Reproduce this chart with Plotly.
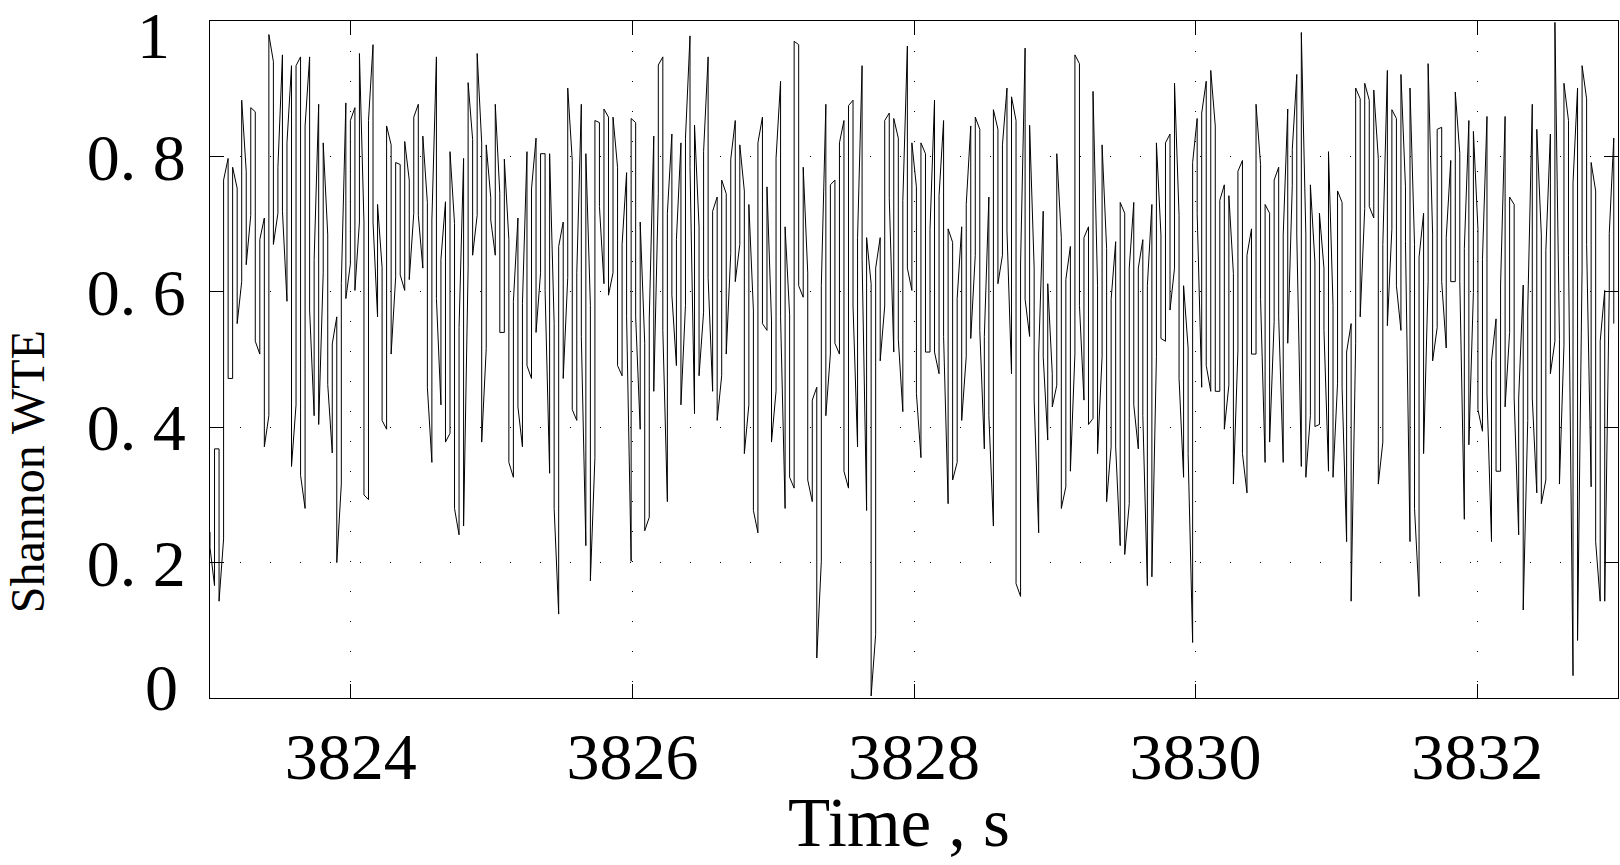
import numpy as np
import plotly.graph_objects as go

# Shannon WTE: each stroke of the trace has a top and a bottom value
stroke_hi = [
    0.245,
    0.368, 0.368, 0.765, 0.797, 0.784, 0.753, 0.883, 0.778, 0.872, 0.866,
    0.677, 0.709, 0.980, 0.940, 0.784, 0.950, 0.820, 0.934, 0.934, 0.947,
    0.845, 0.947, 0.648, 0.877, 0.820, 0.684, 0.523, 0.563, 0.612, 0.879,
    0.853, 0.872, 0.952, 0.703, 0.853, 0.965, 0.729, 0.636, 0.845, 0.817,
    0.791, 0.788, 0.822, 0.765, 0.858, 0.877, 0.830, 0.732, 0.706, 0.947,
    0.648, 0.733, 0.807, 0.701, 0.547, 0.797, 0.909, 0.825, 0.952, 0.820,
    0.817, 0.739,
    0.877, 0.745, 0.796, 0.677, 0.586, 0.709, 0.583, 0.807, 0.752, 0.827,
    0.804, 0.804, 0.804, 0.553, 0.667, 0.703, 0.901, 0.794, 0.628, 0.877,
    0.804, 0.580, 0.853, 0.850, 0.870, 0.858, 0.858, 0.784, 0.670, 0.776,
    0.856,
    0.850, 0.703, 0.524, 0.560, 0.830, 0.935, 0.947, 0.716, 0.833, 0.677,
    0.820, 0.827, 0.978, 0.846, 0.696, 0.807, 0.947, 0.719, 0.740, 0.765,
    0.745, 0.796, 0.853, 0.817, 0.749, 0.729, 0.573, 0.820, 0.858, 0.755,
    0.557, 0.797,
    0.911, 0.696, 0.566, 0.970, 0.965, 0.784, 0.628, 0.440, 0.459, 0.609,
    0.877, 0.758, 0.765, 0.820, 0.853, 0.875, 0.883, 0.680, 0.934, 0.680,
    0.612, 0.635, 0.680, 0.853, 0.864, 0.856, 0.827, 0.735, 0.963, 0.820,
    0.755, 0.820, 0.804, 0.692, 0.883, 0.742, 0.853, 0.693, 0.673, 0.590,
    0.696, 0.729, 0.845, 0.858, 0.840, 0.534, 0.740, 0.869, 0.840, 0.817,
    0.901, 0.888, 0.853, 0.641, 0.960, 0.846, 0.635, 0.508, 0.719, 0.612,
    0.479, 0.804,
    0.680, 0.618, 0.667, 0.950, 0.937, 0.680, 0.696, 0.896, 0.609, 0.817,
    0.664, 0.589, 0.674, 0.732, 0.716, 0.635, 0.732, 0.635, 0.677, 0.609,
    0.729, 0.820, 0.684, 0.820, 0.833, 0.908, 0.713, 0.609, 0.517, 0.791,
    0.856,
    0.864, 0.911, 0.927, 0.845, 0.735, 0.758, 0.742, 0.627, 0.778, 0.794,
    0.654, 0.693, 0.877, 0.788, 0.729, 0.716, 0.765, 0.784, 0.684, 0.870,
    0.810, 0.921, 0.983, 0.684, 0.758, 0.644, 0.716, 0.635, 0.807, 0.580,
    0.749,
    0.732, 0.511, 0.553, 0.901, 0.885, 0.908, 0.883, 0.898, 0.797, 0.670,
    0.927, 0.869, 0.856, 0.921, 0.755, 0.901, 0.670, 0.651, 0.716, 0.937,
    0.684, 0.840, 0.843, 0.680, 0.794, 0.895, 0.804, 0.664, 0.853, 0.837,
    0.693, 0.648,
    0.859, 0.498, 0.560, 0.610, 0.859, 0.740, 0.729, 0.443, 0.610, 0.573,
    0.877, 0.840, 0.684, 0.661, 0.833, 0.998, 0.530, 0.908, 0.853, 0.761,
    0.901, 0.934, 0.885, 0.791, 0.749, 0.527, 0.602, 0.686, 0.827,
]
stroke_lo = [
    0.222,
    0.166, 0.143, 0.235, 0.472, 0.472, 0.553, 0.615, 0.640, 0.713, 0.527,
    0.508, 0.371, 0.417, 0.670, 0.716, 0.719, 0.586, 0.342, 0.433, 0.329,
    0.280, 0.573, 0.417, 0.404, 0.628, 0.463, 0.362, 0.200, 0.316, 0.590,
    0.641, 0.602, 0.703, 0.300, 0.293, 0.703, 0.563, 0.410, 0.397, 0.508,
    0.622, 0.625, 0.602, 0.618, 0.716, 0.713, 0.635, 0.459, 0.348, 0.590,
    0.433, 0.378, 0.391, 0.280, 0.241, 0.254, 0.635, 0.654, 0.713, 0.378,
    0.516, 0.706,
    0.654, 0.540, 0.540, 0.348, 0.326, 0.430, 0.371, 0.491, 0.472, 0.540,
    0.628, 0.602, 0.332, 0.280, 0.124, 0.472, 0.621, 0.426, 0.410, 0.534,
    0.225, 0.173, 0.355, 0.726, 0.612, 0.595, 0.628, 0.491, 0.476, 0.563,
    0.202,
    0.563, 0.397, 0.247, 0.267, 0.453, 0.745, 0.543, 0.290, 0.595, 0.491,
    0.433, 0.580, 0.784, 0.420, 0.476, 0.570, 0.621, 0.453, 0.410, 0.476,
    0.508, 0.657, 0.615, 0.670, 0.361, 0.433, 0.277, 0.244, 0.553, 0.543,
    0.378, 0.453,
    0.563, 0.280, 0.326, 0.310, 0.609, 0.592, 0.322, 0.290, 0.059, 0.202,
    0.417, 0.508, 0.524, 0.508, 0.335, 0.310, 0.579, 0.371, 0.648, 0.277,
    0.003, 0.094, 0.498, 0.579, 0.739, 0.511, 0.530, 0.423, 0.635, 0.602,
    0.450, 0.355, 0.511, 0.511, 0.511, 0.479, 0.534, 0.287, 0.322, 0.348,
    0.410, 0.504, 0.531, 0.654, 0.543, 0.368, 0.417, 0.254, 0.612, 0.654,
    0.690, 0.479, 0.169, 0.150, 0.589, 0.534, 0.440, 0.244, 0.504, 0.381,
    0.430, 0.462,
    0.280, 0.312, 0.335, 0.508, 0.580, 0.440, 0.404, 0.413, 0.361, 0.504,
    0.290, 0.371, 0.371, 0.225, 0.212, 0.287, 0.433, 0.368, 0.417, 0.166,
    0.179, 0.504, 0.531, 0.527, 0.573, 0.635, 0.472, 0.326, 0.361, 0.082,
    0.716,
    0.459, 0.491, 0.453, 0.453, 0.453, 0.397, 0.462, 0.316, 0.514, 0.361,
    0.303, 0.508, 0.508, 0.589, 0.348, 0.378, 0.556, 0.563, 0.348, 0.524,
    0.757, 0.684, 0.342, 0.326, 0.417, 0.401, 0.404, 0.543, 0.335, 0.326,
    0.465,
    0.459, 0.231, 0.143, 0.524, 0.563, 0.723, 0.726, 0.709, 0.316, 0.378,
    0.550, 0.693, 0.609, 0.543, 0.674, 0.231, 0.280, 0.150, 0.361, 0.615,
    0.498, 0.547, 0.615, 0.517, 0.615, 0.615, 0.615, 0.264, 0.374, 0.599,
    0.426, 0.394,
    0.449, 0.231, 0.335, 0.335, 0.430, 0.540, 0.443, 0.241, 0.130, 0.410,
    0.443, 0.303, 0.287, 0.322, 0.479, 0.527, 0.316, 0.521, 0.654, 0.033,
    0.085, 0.635, 0.670, 0.312, 0.231, 0.143, 0.143, 0.602, 0.553,
]

x_ticks = [3824, 3826, 3828, 3830, 3832]
y_ticks = [0, 0.2, 0.4, 0.6, 0.8, 1]
# end labels (0 and 1) are placed as annotations, nudged inside the figure like the original
y_ticktext = ['', '0. 2', '0. 4', '0. 6', '0. 8', '']

# stroke times and zigzag path (top/bottom alternate so the joins stay short)
n = len(stroke_hi)
t_stroke = np.linspace(3823.0, 3832.97, n)
t_path, v_path = [], []
for i in range(n):
    pair = (stroke_hi[i], stroke_lo[i]) if i % 2 == 0 else (stroke_lo[i], stroke_hi[i])
    t_path += [t_stroke[i], t_stroke[i]]
    v_path += list(pair)

serif = 'Liberation Serif, Times New Roman, serif'
big_font = dict(family=serif, size=66, color='black')

fig = go.Figure(go.Scatter(
    x=t_path, y=v_path, mode='lines',
    line=dict(color='black', width=1),
    hoverinfo='skip',
))

axis_style = dict(
    ticks='inside', ticklen=14, tickwidth=1, tickcolor='black',
    showline=True, linecolor='black', linewidth=1, mirror='ticks',
    showgrid=True, gridcolor='black', gridwidth=1, griddash='1px,29px',
    zeroline=False, tickfont=big_font, automargin=False,
)

fig.update_layout(
    width=1620, height=865,
    margin=dict(l=210, r=2, t=21, b=167),
    plot_bgcolor='white', paper_bgcolor='white',
    showlegend=False,
    xaxis=dict(range=[3823, 3833], tickvals=x_ticks, ticklabelstandoff=1, **axis_style),
    yaxis=dict(range=[0, 1], tickvals=y_ticks, ticktext=y_ticktext, ticklabelstandoff=10, **axis_style),
    annotations=[
        dict(text='1', x=-0.027, y=0.978, xref='paper', yref='paper',
             xanchor='right', yanchor='middle', showarrow=False, font=big_font),
        dict(text='0', x=-0.021, y=0.016, xref='paper', yref='paper',
             xanchor='right', yanchor='middle', showarrow=False, font=big_font),
        dict(text='Time , s', x=0.489, y=-0.185, xref='paper', yref='paper',
             xanchor='center', yanchor='middle', showarrow=False,
             font=dict(family=serif, size=69, color='black')),
        dict(text='Shannon WTE', x=-0.129, y=0.334, xref='paper', yref='paper',
             xanchor='center', yanchor='middle', textangle=-90, showarrow=False,
             font=dict(family=serif, size=48, color='black')),
    ],
)

# drop the page's default body margin so the figure sits at the window's corner
page_fix = (
    "document.body.style.margin='0';document.body.style.overflow='hidden';"
    "Plotly.relayout(document.getElementById('{plot_id}'), {width: 1620, height: 865});"
)
fig.write_html("out.html", post_script=page_fix, config={'displayModeBar': False})
